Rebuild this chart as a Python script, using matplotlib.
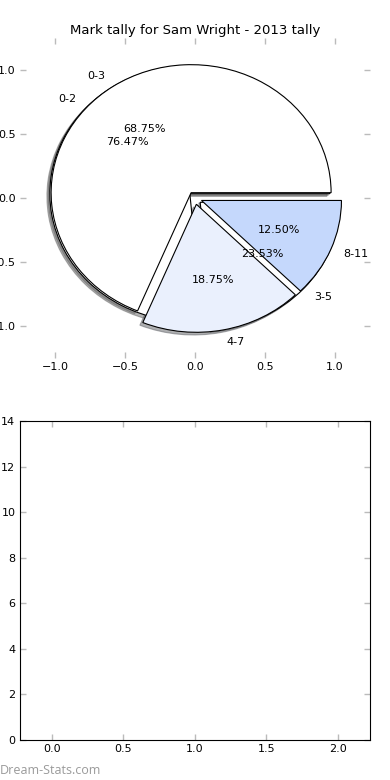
import matplotlib
matplotlib.use("Agg")
import matplotlib.pyplot as plt

# Two tallies drawn onto the same pie axes
labels_2013 = ['0-3', '4-7', '8-11']
values_2013 = [11, 3, 2]
colors_2013 = ['#ffffff', '#eaf0fd', '#c5d8fc']

labels_prev = ['0-2', '3-5']
values_prev = [13, 4]
colors_prev = ['#ffffff', '#ffffff']

# bottom panel axis ticks (empty chart)
bar_xticks = [0.0, 0.5, 1.0, 1.5, 2.0]
bar_yticks = [0, 2, 4, 6, 8, 10, 12, 14]

plt.rcParams['font.family'] = ['DejaVu Sans']
plt.rcParams['font.size'] = 8

fig = plt.figure(figsize=(3.9, 7.8), dpi=100)
ax1 = fig.add_axes([0.0513, 0.541, 0.8974, 0.4103])
ax2 = fig.add_axes([0.05, 0.0513, 0.899, 0.409])

wedge_kw = {'linewidth': 0.8, 'edgecolor': 'black'}
shadow_kw = {'ox': -0.015, 'oy': -0.015, 'shade': 0.6}
ax1.pie(values_prev, labels=labels_prev, colors=colors_prev, autopct='%1.2f%%',
        explode=[0.05] * len(values_prev), shadow=shadow_kw, wedgeprops=wedge_kw,
        textprops={'fontsize': 8}, frame=True)
ax1.pie(values_2013, labels=labels_2013, colors=colors_2013, autopct='%1.2f%%',
        explode=[0.05] * len(values_2013), shadow=shadow_kw, wedgeprops=wedge_kw,
        textprops={'fontsize': 8}, frame=True)
ax1.set_aspect('auto')
ax1.set_xlim(-1.25, 1.25)
ax1.set_ylim(-1.25, 1.25)
ax1.set_xticks([-1.0, -0.5, 0.0, 0.5, 1.0])
ax1.set_yticks([-1.0, -0.5, 0.0, 0.5, 1.0])
ax1.set_xticklabels(['\u22121.0', '\u22120.5', '0.0', '0.5', '1.0'])
ax1.set_yticklabels(['\u22121.0', '\u22120.5', '0.0', '0.5', '1.0'])
ax1.set_frame_on(False)
ax1.set_title('Mark tally for Sam Wright - 2013 tally', fontsize=9.5, pad=3)

ax2.set_xlim(-0.225, 2.225)
ax2.set_ylim(0, 14)
ax2.set_xticks(bar_xticks)
ax2.set_yticks(bar_yticks)

for ax in (ax1, ax2):
    ax.tick_params(direction='in', length=4, width=1, color='#bbbbbb',
                   top=True, right=True, labelsize=8, pad=3)

fig.text(0.0, 0.004, 'Dream-Stats.com', color='#9a9a9a', fontsize=9,
         family='Open Sans', ha='left', va='bottom')

fig.savefig('out.png', dpi=100)
